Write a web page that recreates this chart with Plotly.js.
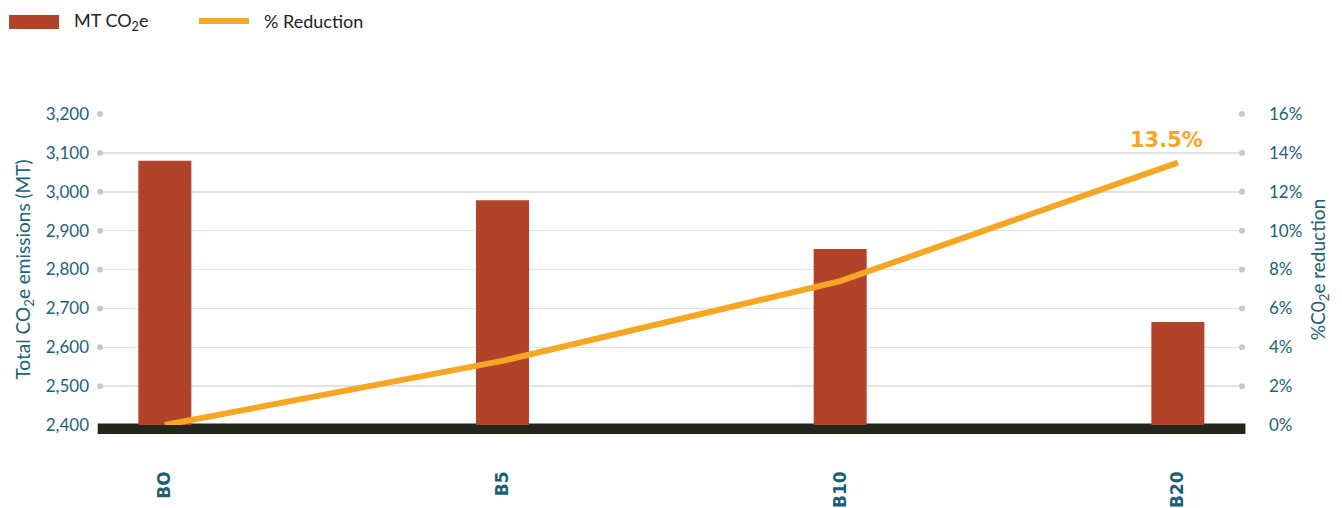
<!DOCTYPE html>
<html>
<head>
<meta charset="utf-8">
<script src="https://cdn.plot.ly/plotly-3.0.1.min.js"></script>
<style>html,body{margin:0;padding:0;background:#fff;}#chart{width:1342px;height:508px;}</style>
</head>
<body>
<div id="chart"></div>
<script>
// ---- data ----
const categories = ["BO", "B5", "B10", "B20"];
const emissions = [3080, 2978, 2853, 2665];        // MT CO2e
const reduction = [0, 3.3, 7.4, 13.5];             // % reduction
const leftTicks = [2400, 2500, 2600, 2700, 2800, 2900, 3000, 3100, 3200];
const rightTicks = [0, 2, 4, 6, 8, 10, 12, 14, 16];
const seriesNames = ["MT CO<sub>2</sub>e", "% Reduction"];
const highlightLabel = "13.5%";

const teal = "#1b6277";
const barColor = "#b0432a";
const lineColor = "#f5a623";

const barTrace = {
  type: "bar", x: categories, y: emissions, name: seriesNames[0],
  marker: {color: barColor}, width: 0.157, showlegend: false, hoverinfo: "skip"
};
const lineTrace = {
  type: "scatter", mode: "lines", x: categories, y: reduction, yaxis: "y2",
  name: seriesNames[1], line: {color: lineColor, width: 6}, showlegend: false,
  hoverinfo: "skip", cliponaxis: false
};
// gridline end dots
const gv = leftTicks.filter(v => v !== leftTicks[0]);
const dotTrace = {
  type: "scatter", mode: "markers", xaxis: "x2", yaxis: "y",
  x: gv.flatMap(() => [0, 1]), y: gv.flatMap(v => [v, v]),
  marker: {color: "#c8c8c8", size: 6}, showlegend: false, hoverinfo: "skip", cliponaxis: false
};

const fontFam = "Lato, 'Noto Sans', sans-serif";
const layout = {
  width: 1342, height: 508,
  margin: {l: 100, r: 100, t: 114, b: 83},
  paper_bgcolor: "#ffffff", plot_bgcolor: "rgba(0,0,0,0)",
  font: {family: fontFam, color: teal, size: 17},
  showlegend: false,
  xaxis: {
    type: "category", range: [-0.192, 3.19], showgrid: false, zeroline: false,
    showline: false, ticks: "", ticklabelstandoff: 42,
    tickangle: -90,
    tickfont: {family: "'DejaVu Sans', sans-serif", size: 17, color: "#1a5f73", weight: 700}
  },
  xaxis2: {overlaying: "x", range: [0, 1], visible: false, fixedrange: true},
  yaxis: {
    range: [2400, 3200], tickvals: leftTicks,
    ticktext: leftTicks.map(v => v.toLocaleString("en-US")),
    showgrid: true, gridcolor: "#e2e2e2", gridwidth: 1.5, zeroline: false, showline: false,
    ticks: "", ticklabelstandoff: 10,
    title: {text: "Total CO<sub>2</sub>e emissions (MT)", standoff: 10, font: {size: 19, color: teal}}
  },
  yaxis2: {
    overlaying: "y", side: "right", range: [0, 16], tickvals: rightTicks,
    ticktext: rightTicks.map(v => v + "%"),
    showgrid: false, zeroline: false, showline: false, ticks: "", ticklabelstandoff: 26,
    title: {text: "%C0<sub>2</sub>e reduction", standoff: 10, font: {size: 19, color: teal}}
  },
  shapes: [
    // dark baseline band
    {type: "rect", xref: "paper", yref: "paper", x0: -0.002, x1: 1.003,
     y0: -9 / 311, y1: 1.5 / 311, fillcolor: "#22261c", line: {width: 0}, layer: "below"},
    // legend symbols
    {type: "rect", xref: "paper", yref: "paper",
     x0: (9 - 100) / 1142, x1: (59 - 100) / 1142, y0: (425 - 29) / 311, y1: (425 - 15) / 311,
     fillcolor: barColor, line: {width: 0}},
    {type: "line", xref: "paper", yref: "paper",
     x0: (199 - 100) / 1142, x1: (249 - 100) / 1142, y0: (425 - 21) / 311, y1: (425 - 21) / 311,
     line: {color: lineColor, width: 6}}
  ],
  annotations: [
    {xref: "paper", yref: "paper", x: (72 - 100) / 1142, y: (425 - 21) / 311, xanchor: "left", yanchor: "middle",
     text: seriesNames[0], showarrow: false, font: {size: 18, color: "#222"}},
    {xref: "paper", yref: "paper", x: (262 - 100) / 1142, y: (425 - 21) / 311, xanchor: "left", yanchor: "middle",
     text: seriesNames[1], showarrow: false, font: {size: 18, color: "#222"}},
    {x: categories[3], y: reduction[3], yref: "y2", xanchor: "center", yanchor: "bottom",
     xshift: -11, yshift: 9, text: highlightLabel, showarrow: false,
     font: {family: "'DejaVu Sans', sans-serif", size: 21, color: lineColor, weight: 700}}
  ]
};

Plotly.newPlot("chart", [barTrace, dotTrace, lineTrace], layout, {displayModeBar: false, staticPlot: true});
</script>
</body>
</html>
